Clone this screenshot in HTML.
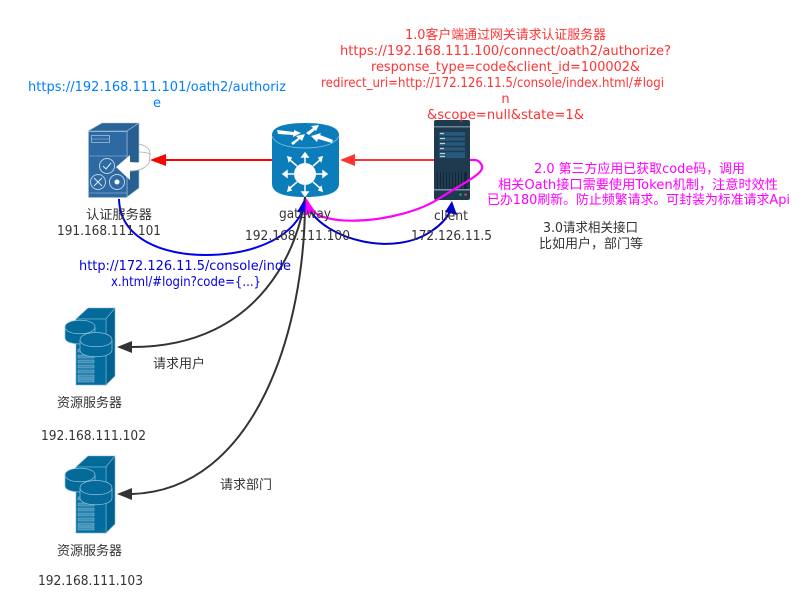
<!DOCTYPE html>
<html><head><meta charset="utf-8">
<style>
html,body{margin:0;padding:0;background:#fff}
svg{display:block}
text{font-family:"DejaVu Sans","Noto Sans CJK SC",sans-serif;font-size:13px;text-anchor:middle;fill:#333}
.r{fill:#ff3333}.b{fill:#007fff}.m{fill:#f0f}.d{fill:#0000e0}
</style></head>
<body>
<svg width="802" height="600" viewBox="0 0 802 600" xmlns="http://www.w3.org/2000/svg">
<!-- auth server -->
<g>
<path d="M138 144c8 1 12 5 12 10 0 9-5 15-12 16z" fill="#fff" stroke="#aaa" stroke-width=".8"/>
<path d="M138 152c6 0 12 1 12 3" fill="none" stroke="#aaa" stroke-width=".8"/>
<path d="M88 131l14-8h37l-12 8z" fill="#2a6499" stroke="#a9c3da" stroke-width=".6"/>
<path d="M127 131l12-8v65l-12 9z" fill="#275f92" stroke="#a9c3da" stroke-width=".6"/>
<rect x="88.500" y="131.500" width="38.500" height="66" fill="#2d6aa3" stroke="#a9c3da" stroke-width=".6"/>
<rect x="91.500" y="135.500" width="18" height="7" fill="none" stroke="#9fbdd8" stroke-width=".8"/>
<path d="M92 139h17M88 156h39M88 193h39" stroke="#7fa5c8" stroke-width=".8"/>
<circle cx="107" cy="166" r="7.500" fill="none" stroke="#bcd0e3"/>
<path d="M103 166l3 3 5-6" fill="none" stroke="#dfe8f0"/>
<circle cx="98" cy="182" r="7.500" fill="none" stroke="#bcd0e3"/>
<path d="M94 178l8 8M102 178l-8 8" stroke="#dfe8f0"/>
<circle cx="117" cy="182" r="7.500" fill="none" stroke="#bcd0e3"/>
<circle cx="117" cy="182" r="2.500" fill="#fff"/>
<path d="M116 167l14-12v7c8 1 16 0 20-2-1 8-9 11-20 11v9z" fill="#fff"/>
<path d="M130 171c9 0 18-3 20-11" fill="none" stroke="#aaa" stroke-width=".7"/>
</g>
<!-- gateway -->
<g>
<path d="M272 135c0-9 15-12 33-12s34 3 34 12v49c0 10-16 13-34 13s-33-3-33-13z" fill="#0b7dbb"/>
<path d="M272 136c3 8 16 12 33 12s31-4 34-12" fill="none" stroke="#8cc1de" stroke-width=".8"/>
<path d="M277 130l17 2 0-2 7 3-8 4 0-2-15-1zM306 133l7-5-2-2 8-1-3 6-1-1-6 5zM333 140l-13-5 1-2-10 3 6 6 1-3 14 4zM293 145l7-6 2 2 3-7-9 2 2 2-7 5z" fill="#fff"/>
<circle cx="305" cy="174" r="11" fill="#fff"/>
<g stroke="#fff" stroke-width="1.500" fill="#fff">
<path d="M305 163v-9M305 185v9M294 174h-9M316 174h9M297 166l-7-6M313 166l7-6M297 182l-7 6M313 182l7 6"/>
<path d="M302 157l3-4 3 4zM302 192l3 4 3-4zM287 171l-4 3 4 3zM323 171l4 3-4 3z"/>
<path d="M291 158l-3-1 1 4zM319 158l3-1-1 4zM291 190l-3 1 1-4zM319 190l3 1-1-4z"/>
</g>
</g>
<!-- client -->
<g>
<rect x="434" y="120" width="36" height="80" rx="2" fill="#1d3a4f"/>
<rect x="434" y="126" width="36" height="1.500" fill="#6b8496"/>
<rect x="439" y="132" width="26" height="26" fill="#27597b"/>
<path d="M439 136.500h26M439 141.500h26M439 146.500h26M439 151.500h26" stroke="#1d3a4f" stroke-width="1.500"/>
<path d="M440 133.500h4M440 138.500h5M440 143.500h5M440 148.500h4M440 153.500h5M440 156.500h5" stroke="#b9cfdc" stroke-width="1.200"/>
<rect x="437" y="172" width="30" height="17" fill="#11283a"/>
<path d="M439 172v17M442 172v17M445 172v17M448 172v17M451 172v17M454 172v17M457 172v17M460 172v17M463 172v17" stroke="#3b5a70" stroke-width=".8"/>
<rect x="434" y="189" width="36" height="1.500" fill="#7b93a3"/>
<circle cx="460.500" cy="194.500" r="1.300" fill="#2f9a6b"/>
<circle cx="465.500" cy="194.500" r="1.300" fill="#c14a58"/>
</g>
<!-- resource servers -->
<defs>
<g id="res">
<path d="M76 319l12-11h27l-9 11z" fill="#036a9a" stroke="#79b4d2" stroke-width=".6"/>
<path d="M106 319l9-11v68l-9 9z" fill="#02628f" stroke="#79b4d2" stroke-width=".6"/>
<rect x="76" y="319" width="30" height="66" fill="#036c9e" stroke="#79b4d2" stroke-width=".6"/>
<path d="M65 327c0-9 30-9 30 0v11c0 8-30 8-30 0z" fill="#036a9a" stroke="#8fc2da" stroke-width=".7"/>
<path d="M65 327c0 9 30 9 30 0" fill="none" stroke="#8fc2da" stroke-width=".7"/>
<g fill="#3d8db4" stroke="#8fc2da" stroke-width=".5">
<rect x="78" y="349" width="16" height="3"/><rect x="78" y="355" width="16" height="3"/><rect x="78" y="360" width="16" height="3"/><rect x="78" y="365" width="16" height="3"/><rect x="78" y="370" width="16" height="3"/><rect x="78" y="375" width="16" height="3"/><rect x="78" y="379" width="16" height="3"/>
</g>
<path d="M80 340c0-10 32-10 32 0v10c0 9-32 9-32 0z" fill="#036a9a" stroke="#8fc2da" stroke-width=".7"/>
<path d="M80 340c0 9 32 9 32 0" fill="none" stroke="#8fc2da" stroke-width=".7"/>
</g>
</defs>
<use href="#res"/>
<use href="#res" y="148"/>
<!-- connectors -->
<g fill="none">
<path d="M272 160H165" stroke="#f00" stroke-width="2"/>
<path d="M434 160H355" stroke="#ff3333" stroke-width="2"/>
<path d="M305 197C300 240 265 347 132 347" stroke="#333" stroke-width="2"/>
<path d="M305 197C306 330 255 490 132 494" stroke="#333" stroke-width="2"/>
<path d="M119 199C120 240 165 255 205 255C250 255 290 240 303 210" stroke="#0000f0" stroke-width="2"/>
<path d="M308 207C325 240 395 258 433 230C442 224 447 218 451 210" stroke="#0000c8" stroke-width="2"/>
<path d="M311 208C320 228 400 224 440 198C465 182 488 172 481 164C478 159 474 160 470 160" stroke="#f0f" stroke-width="2.200"/>
</g>
<path d="M150 160l16-6v12z" fill="#f00"/>
<path d="M340 160l15-6v12z" fill="#ff3333"/>
<path d="M304 200l5 13-12-1z" fill="#0000f0"/>
<path d="M452 201l5 14-12-3z" fill="#0000c8"/>
<path d="M306 198l9 13-10 5z" fill="#f0f"/>
<path d="M117 347l15-6v12z" fill="#333"/>
<path d="M117 494l15-6v12z" fill="#333"/>
<!-- labels -->
<text x="505.500" y="39" class="r" textLength="201" lengthAdjust="spacingAndGlyphs">1.0客户端通过网关请求认证服务器</text>
<text x="505.500" y="55" class="r" textLength="331" lengthAdjust="spacingAndGlyphs">https://192.168.111.100/connect/oath2/authorize?</text>
<text x="505.500" y="71" class="r" textLength="269" lengthAdjust="spacingAndGlyphs">response_type=code&amp;client_id=100002&amp;</text>
<text x="492.500" y="87" class="r" textLength="343" lengthAdjust="spacingAndGlyphs">redirect_uri=http://172.126.11.5/console/index.html/#logi</text>
<text x="505.500" y="103" class="r">n</text>
<text x="505.500" y="119" class="r" textLength="157" lengthAdjust="spacingAndGlyphs">&amp;scope=null&amp;state=1&amp;</text>
<text x="157" y="91" class="b" textLength="258" lengthAdjust="spacingAndGlyphs">https://192.168.111.101/oath2/authoriz</text>
<text x="157" y="107" class="b">e</text>
<text x="119" y="219" textLength="66" lengthAdjust="spacingAndGlyphs">认证服务器</text>
<text x="109" y="235" textLength="104" lengthAdjust="spacingAndGlyphs">191.168.111.101</text>
<text x="305" y="218" textLength="52" lengthAdjust="spacingAndGlyphs">gateway</text>
<text x="297.500" y="240" textLength="105" lengthAdjust="spacingAndGlyphs">192.168.111.100</text>
<text x="451" y="220" textLength="34" lengthAdjust="spacingAndGlyphs">client</text>
<text x="451.500" y="240" textLength="81" lengthAdjust="spacingAndGlyphs">172.126.11.5</text>
<text x="639.500" y="173" class="m" textLength="211" lengthAdjust="spacingAndGlyphs">2.0 第三方应用已获取code码，调用</text>
<text x="638" y="189" class="m" textLength="280" lengthAdjust="spacingAndGlyphs">相关Oath接口需要使用Token机制，注意时效性</text>
<text x="638.500" y="204" class="m" textLength="303" lengthAdjust="spacingAndGlyphs">已办180刷新。防止频繁请求。可封装为标准请求Api</text>
<text x="590.500" y="232" textLength="95" lengthAdjust="spacingAndGlyphs">3.0请求相关接口</text>
<text x="591" y="248" textLength="104" lengthAdjust="spacingAndGlyphs">比如用户，部门等</text>
<text x="185" y="270" class="d" textLength="212" lengthAdjust="spacingAndGlyphs">http://172.126.11.5/console/inde</text>
<text x="186" y="286" class="d" textLength="150" lengthAdjust="spacingAndGlyphs">x.html/#login?code={...}</text>
<text x="179" y="368" textLength="52" lengthAdjust="spacingAndGlyphs">请求用户</text>
<text x="246" y="489" textLength="52" lengthAdjust="spacingAndGlyphs">请求部门</text>
<text x="89.500" y="407" textLength="65" lengthAdjust="spacingAndGlyphs">资源服务器</text>
<text x="93.500" y="440" textLength="105" lengthAdjust="spacingAndGlyphs">192.168.111.102</text>
<text x="89.500" y="555" textLength="65" lengthAdjust="spacingAndGlyphs">资源服务器</text>
<text x="90.500" y="585" textLength="105" lengthAdjust="spacingAndGlyphs">192.168.111.103</text>
</svg>
</body></html>
